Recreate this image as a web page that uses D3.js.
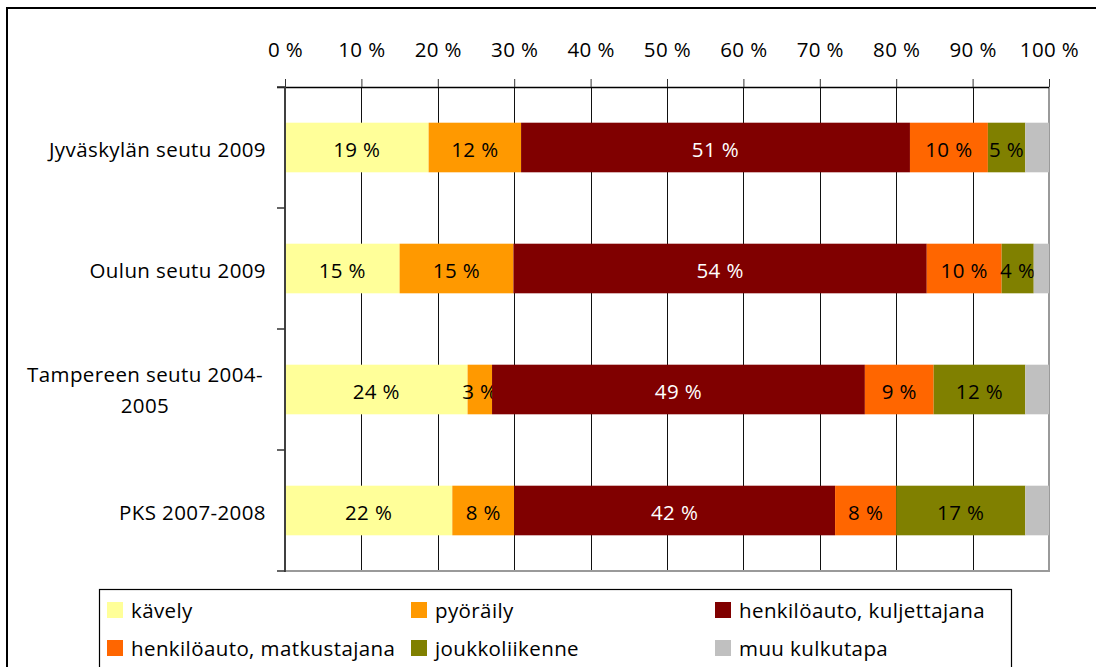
<!DOCTYPE html>
<html>
<head>
<meta charset="utf-8">
<script src="https://cdn.jsdelivr.net/npm/d3@7"></script>
<style>
  body { margin: 0; background: #fff; }
  svg text { font-family: "Open Sans", Lato, sans-serif; letter-spacing: 0.4px; }
</style>
</head>
<body>
<script>
// categories (top to bottom)
var regions = ['Jyväskylän seutu 2009', 'Oulun seutu 2009', 'Tampereen seutu 2004-2005', 'PKS 2007-2008'];
// series names (stack order, left to right)
var modes = ['kävely', 'pyöräily', 'henkilöauto, kuljettajana', 'henkilöauto, matkustajana', 'joukkoliikenne', 'muu kulkutapa'];
// shares in %, one array per mode, in the order of regions
var kavely       = [18.8, 15.0, 23.9, 21.9];
var pyoraily     = [12.1, 14.9, 3.2, 8.1];
var kuljettajana = [50.9, 54.1, 48.8, 42.0];
var matkustajana = [10.2, 9.8, 9.0, 8.0];
var joukko       = [4.9, 4.2, 12.0, 16.9];
var muu          = [3.1, 2.0, 3.1, 3.1];
var xTicks = [0, 10, 20, 30, 40, 50, 60, 70, 80, 90, 100];

var seriesValues = [kavely, pyoraily, kuljettajana, matkustajana, joukko, muu];
var colors = ['#FFFF99', '#FF9900', '#800000', '#FF6600', '#808000', '#C0C0C0'];
var labelColors = ['#000', '#000', '#fff', '#000', '#000', null];

var fontSize = '20.5px';
var W = 1096, H = 667;
var svg = d3.select('body').append('svg')
  .attr('width', W)
  .attr('height', H);

// outer chart frame (runs off the right and bottom edge)
svg.append('rect')
  .attr('x', 7).attr('y', 8)
  .attr('width', W + 20).attr('height', H + 20)
  .attr('fill', 'none')
  .attr('stroke', '#000')
  .attr('stroke-width', 2);

// table for the stack
var table = regions.map(function(r, i) {
  var row = {region: r};
  modes.forEach(function(m, j) { row[m] = seriesValues[j][i]; });
  return row;
});
var stacked = d3.stack().keys(modes)(table);

var x = d3.scaleLinear().domain([0, 100]).range([285, 1049]);
var y = d3.scaleBand().domain(regions).range([87, 571])
  .paddingInner(0.59).paddingOuter(0.295);
var step = y.step();

// gridlines
svg.append('g')
  .selectAll('line')
  .data(xTicks.slice(1, -1))
  .enter().append('line')
  .attr('x1', d => Math.round(x(d)) + 0.5)
  .attr('x2', d => Math.round(x(d)) + 0.5)
  .attr('y1', 87).attr('y2', 571)
  .attr('stroke', '#111')
  .attr('stroke-width', 1);

// plot area border right & bottom (grey)
svg.append('path')
  .attr('d', `M${x(0)},571H${x(100)}V87`)
  .attr('fill', 'none')
  .attr('stroke', '#9a9a9a')
  .attr('stroke-width', 2);

// bars
var layer = svg.selectAll('.layer')
  .data(stacked)
  .enter().append('g')
  .attr('class', 'layer')
  .attr('fill', (d, i) => colors[i]);

layer.selectAll('rect')
  .data(d => d)
  .enter().append('rect')
  .attr('x', d => x(d[0]))
  .attr('width', d => x(d[1]) - x(d[0]))
  .attr('y', d => y(d.data.region))
  .attr('height', y.bandwidth());

// data labels
layer.each(function(s, i) {
  if (!labelColors[i]) return;
  d3.select(this).selectAll('text')
    .data(s)
    .enter().append('text')
    .attr('x', d => (x(d[0]) + x(d[1])) / 2)
    .attr('y', d => y(d.data.region) + y.bandwidth() / 2)
    .attr('dy', '0.45em')
    .attr('text-anchor', 'middle')
    .attr('fill', labelColors[i])
    .style('font-size', fontSize)
    .text(d => Math.round(d[1] - d[0]) + ' %');
});

// top axis
var xAxis = d3.axisTop(x)
  .tickValues(xTicks)
  .tickSize(8)
  .tickSizeOuter(0)
  .tickPadding(22)
  .tickFormat(d => d + ' %');

var gx = svg.append('g')
  .attr('transform', 'translate(0,87)')
  .call(xAxis);
gx.select('.domain').attr('d', 'M277,0.5H1049').attr('stroke', '#000').attr('stroke-width', 1.5);
gx.selectAll('.tick line').attr('stroke', '#333');
gx.selectAll('.tick text')
  .attr('fill', '#000')
  .style('font-size', fontSize)
  .style('font-family', '"Open Sans", sans-serif');

// category axis (left)
svg.append('line')
  .attr('x1', 285).attr('x2', 285)
  .attr('y1', 87).attr('y2', 572)
  .attr('stroke', '#404040')
  .attr('stroke-width', 2);

svg.append('g')
  .selectAll('line')
  .data(d3.range(regions.length + 1))
  .enter().append('line')
  .attr('x1', 277).attr('x2', 285)
  .attr('y1', i => 87 + i * step)
  .attr('y2', i => 87 + i * step)
  .attr('stroke', '#333')
  .attr('stroke-width', 1.5);

// category labels (wrap the long one like the original)
var catLabels = svg.append('g')
  .selectAll('text')
  .data(regions)
  .enter().append('text')
  .attr('text-anchor', 'end')
  .attr('fill', '#000')
  .style('font-size', fontSize)
  .attr('x', 266)
  .attr('y', d => y(d) + y.bandwidth() / 2);

catLabels.each(function(d) {
  var t = d3.select(this);
  if (d.length > 22) {
    var cut = d.lastIndexOf(' ');
    var a = d.slice(0, cut), b = d.slice(cut + 1, d.lastIndexOf('-') + 1), c = d.slice(d.lastIndexOf('-') + 1);
    t.attr('text-anchor', 'middle').attr('x', 145);
    t.append('tspan').attr('x', 145).attr('dy', '-0.38em').text(a + ' ' + b);
    t.append('tspan').attr('x', 145).attr('dy', '1.52em').text(c);
  } else {
    t.attr('dy', '0.45em').text(d);
  }
});

// legend
var legend = svg.append('g');
legend.append('rect')
  .attr('x', 99.5).attr('y', 589.5)
  .attr('width', 912).attr('height', 100)
  .attr('fill', '#fff')
  .attr('stroke', '#000')
  .attr('stroke-width', 1.2);

var colX = [107, 411, 715];
var rowY = [618, 656];
var item = legend.selectAll('.item')
  .data(modes)
  .enter().append('g')
  .attr('class', 'item')
  .attr('transform', (d, i) => `translate(${colX[i % 3]},${rowY[Math.floor(i / 3)]})`);

item.append('rect')
  .attr('x', 0).attr('y', -16)
  .attr('width', 16).attr('height', 16)
  .attr('fill', (d, i) => colors[i]);

item.append('text')
  .attr('x', 24)
  .attr('fill', '#000')
  .style('font-size', fontSize)
  .text(d => d);
</script>
</body>
</html>
